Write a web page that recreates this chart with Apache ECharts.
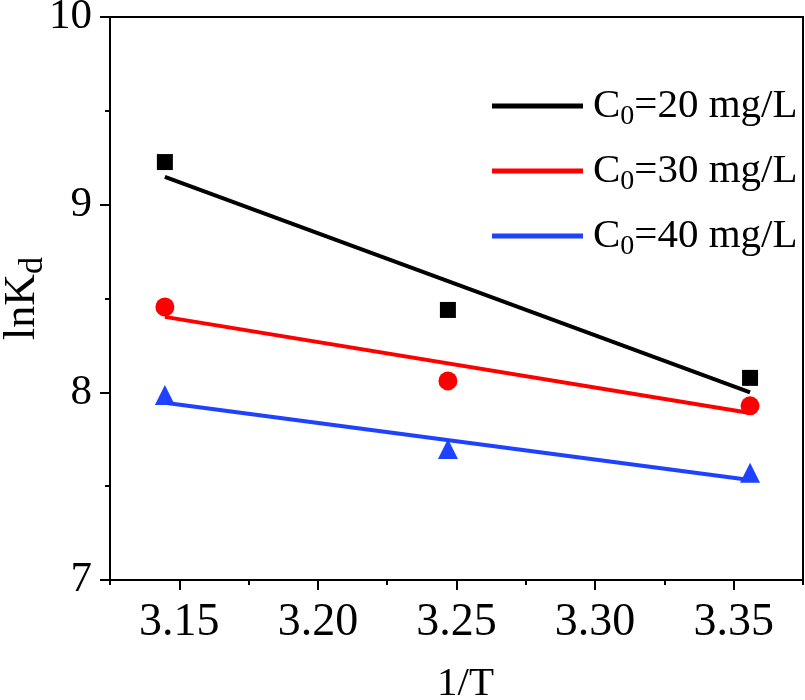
<!DOCTYPE html>
<html>
<head>
<meta charset="utf-8">
<script src="https://cdn.jsdelivr.net/npm/echarts@6/dist/echarts.min.js"></script>
<style>html,body{margin:0;padding:0;background:#fff}#c{width:805px;height:700px}</style>
</head>
<body>
<div id="c"></div>
<script>
// Data
const xData = [3.1448, 3.2469, 3.3559];
const ln20 = [9.227, 8.439, 8.077];
const ln30 = [8.455, 8.061, 7.928];
const ln40 = [7.986, 7.698, 7.571];
const fitX = [3.1448, 3.3559];
const fit20 = [9.148, 8.000];
const fit30 = [8.402, 7.890];
const fit40 = [7.944, 7.533];
const seriesNames = ['C0=20 mg/L', 'C0=30 mg/L', 'C0=40 mg/L'];
const xMajorTicks = [3.15, 3.20, 3.25, 3.30, 3.35];
const xMinorTicks = [3.125, 3.175, 3.225, 3.275, 3.325, 3.375];

const FONT = 'Liberation Serif';
const pts = (xs, ys) => xs.map((x, i) => [x, ys[i]]);
const colors = ['#000000', '#ff0000', '#1f42ff'];
const symbols = ['rect', 'circle', 'triangle'];
const symSizes = [16, 19, 20];
const raw = [ln20, ln30, ln40];
const fits = [fit20, fit30, fit40];

const chart = echarts.init(document.getElementById('c'));
const series = [];
for (let i = 0; i < 3; i++) {
  series.push({
    name: 'pts' + i, type: 'scatter', xAxisIndex: 0, data: pts(xData, raw[i]),
    symbol: symbols[i], symbolSize: symSizes[i],
    itemStyle: { color: colors[i], opacity: 1 }, z: 3
  });
  series.push({
    name: seriesNames[i], type: 'line', xAxisIndex: 0, data: pts(fitX, fits[i]),
    symbol: 'none', lineStyle: { color: colors[i], width: 4 }, itemStyle: { color: colors[i] }, z: 2
  });
}

chart.setOption({
  animation: false,
  grid: { left: 110, right: 2, top: 17, bottom: 120, show: true, borderColor: '#000', borderWidth: 2,
    containLabel: false, outerBoundsMode: 'none' },
  legend: {
    data: seriesNames.map(n => ({ name: n, icon: 'rect' })), orient: 'vertical', left: 487, top: 78,
    itemWidth: 91, itemHeight: 5, itemGap: 17,
    formatter: function (n) { return 'C{s|0}' + n.slice(2); },
    textStyle: {
      fontFamily: FONT, fontSize: 41, color: '#000', lineHeight: 46, padding: [0, 0, 0, 5],
      rich: { s: { fontFamily: FONT, fontSize: 28, color: '#000', padding: [22, 0, 0, 0] } }
    }
  },
  xAxis: [{
    type: 'value', min: 3.125, max: 3.375,
    name: '1/T', nameLocation: 'middle', nameGap: 84, nameMoveOverlap: false,
    nameTextStyle: { fontFamily: FONT, fontSize: 41, color: '#000', padding: [0, 0, 0, 18] },
    axisLine: { show: true, lineStyle: { color: '#000', width: 2 } },
    axisTick: { show: true, inside: false, length: 10, lineStyle: { color: '#000', width: 2 }, customValues: xMajorTicks },
    axisLabel: { show: true, margin: 20, fontFamily: FONT, fontSize: 46, color: '#000', customValues: xMajorTicks,
      formatter: v => v.toFixed(2) },
    splitLine: { show: false }
  }, {
    type: 'value', min: 3.125, max: 3.375, position: 'bottom',
    axisLine: { show: false },
    axisTick: { show: true, inside: false, length: 5, lineStyle: { color: '#000', width: 2 }, customValues: xMinorTicks },
    axisLabel: { show: false },
    splitLine: { show: false }
  }],
  yAxis: {
    type: 'value', min: 7, max: 10, interval: 1,
    name: '{a|lnK}{b|d}', nameLocation: 'middle', nameGap: 60, nameMoveOverlap: false,
    nameTextStyle: {
      fontFamily: FONT, fontSize: 44, color: '#000',
      rich: {
        a: { fontFamily: FONT, fontSize: 44, color: '#000' },
        b: { fontFamily: FONT, fontSize: 34, color: '#000', padding: [22, 0, 0, 0] }
      }
    },
    axisLine: { show: true, lineStyle: { color: '#000', width: 2 } },
    axisTick: { show: true, inside: false, length: 10, lineStyle: { color: '#000', width: 2 } },
    minorTick: { show: true, splitNumber: 2, length: 5, lineStyle: { color: '#000', width: 2 } },
    axisLabel: { margin: 18, fontFamily: FONT, fontSize: 43, color: '#000' },
    splitLine: { show: false }, minorSplitLine: { show: false }
  },
  series: series
});
</script>
</body>
</html>
